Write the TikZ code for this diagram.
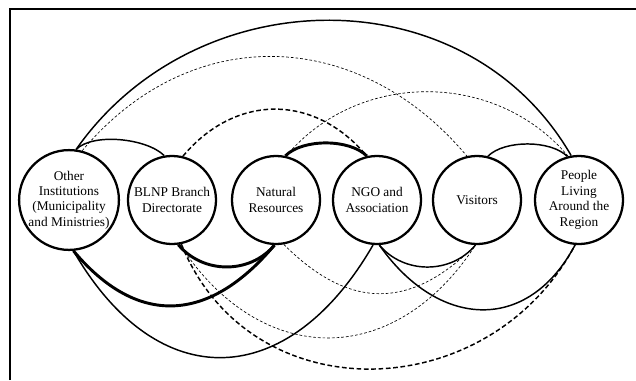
\documentclass[tikz,border=0pt]{standalone}
\usepackage{fontspec}
\setmainfont{Liberation Serif}

\begin{document}
\begin{tikzpicture}[
  x=0.75pt,
  y=0.75pt,
  actor/.style={circle,draw,line width=1.7pt,minimum size=66pt,inner sep=0pt,
    align=center,font=\fontsize{10}{11.6}\selectfont},
  tie/.style={draw,line width=1.1pt},
  strong tie/.style={draw,line width=2.2pt},
  weak tie/.style={draw,line width=0.5pt,dash pattern=on 2pt off 1.5pt},
  dashed tie/.style={draw,line width=1.1pt,dash pattern=on 3.5pt off 2pt},
  frame/.style={draw,line width=1pt}
]
  \useasboundingbox (0,-180) rectangle (636,200);
  \draw[frame] (10,-180) -- (10,191) -- (636,191);

  % stakeholders
  \node[actor] (oi) at (69,0) {Other\\Institutions\\(Municipality\\and Ministries)};
  \node[actor] (blnp) at (172,0) {BLNP Branch\\Directorate};
  \node[actor] (natres) at (276,0) {Natural\\Resources};
  \node[actor] (ngo) at (377,0) {NGO and\\Association};
  \node[actor] (visitors) at (477,0) {Visitors};
  \node[actor] (people) at (579,0) {People\\Living\\Around the\\Region};

  % ties above the row
  \draw[tie] (oi.82) to[out=55,in=120,looseness=1.08] (people.100);
  \draw[weak tie] (oi.75) to[out=50,in=130,looseness=1.12] (visitors.103);
  \draw[weak tie] (natres.77) to[out=50,in=130,looseness=1.02] (people.104);
  \draw[dashed tie] (blnp.76) to[out=50,in=130,looseness=1.14] (ngo.103);
  \draw[strong tie] (natres.78) to[out=45,in=135,looseness=0.77] (ngo.103);
  \draw[tie] (oi.82) to[out=45,in=135,looseness=0.7] (blnp.100);
  \draw[tie] (visitors.76) to[out=45,in=135,looseness=0.75] (people.105);

  % ties below the row
  \draw[tie] (oi.-85) to[out=-60,in=-120,looseness=1.44] (ngo.-95);
  \draw[strong tie] (oi.-85) to[out=-50,in=-130,looseness=1.28] (natres.-92);
  \draw[strong tie] (blnp.-82) to[out=-50,in=-130,looseness=1.02] (natres.-92);
  \draw[weak tie] (natres.-80) to[out=-45,in=-135,looseness=1.23] (visitors.-92);
  \draw[weak tie] (blnp.-80) to[out=-57,in=-123,looseness=1.28] (visitors.-92);
  \draw[dashed tie] (blnp.-78) to[out=-68,in=-118,looseness=1.19] (people.-95);
  \draw[tie] (ngo.-87) to[out=-50,in=-130,looseness=1.02] (visitors.-92);
  \draw[tie] (ngo.-87) to[out=-55,in=-118,looseness=1.33] (people.-95);
\end{tikzpicture}
\end{document}
